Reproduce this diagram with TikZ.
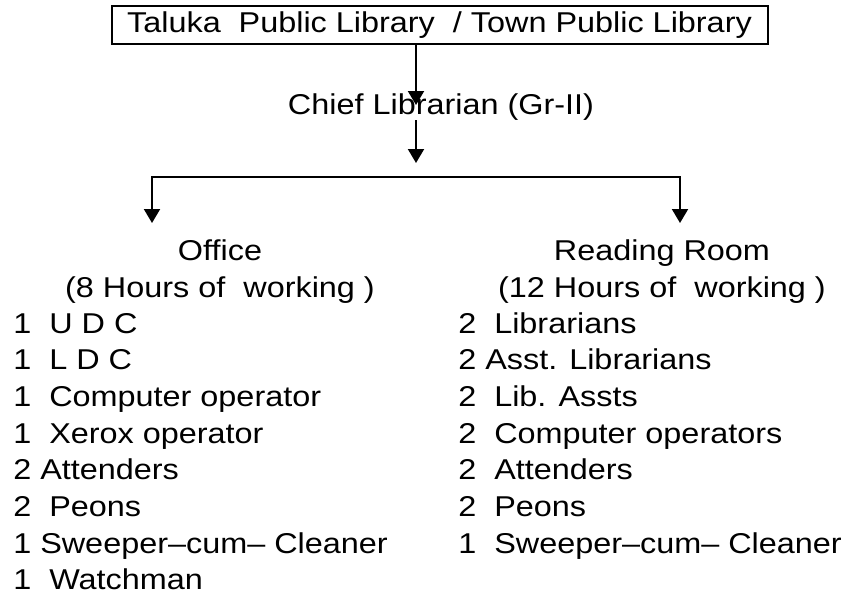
\documentclass[tikz,border=0pt]{standalone}
\usepackage{fontspec}
\setmainfont[FakeStretch=1.13]{Liberation Sans}
\usetikzlibrary{arrows.meta}

\begin{document}
\begin{tikzpicture}[x=0.75pt, y=0.75pt, font=\fontsize{21.5}{25}\selectfont]
	\tikzstyle{heading}=[draw=black, line width=1.5pt, minimum width=492pt, minimum height=28.5pt, inner sep=0pt]
	\tikzstyle{title}=[anchor=base, inner sep=0pt]
	\tikzstyle{item}=[anchor=base west, inner sep=0pt]
	\tikzstyle{arr}=[-{Triangle[width=12pt,length=10.5pt]}, line width=1.5pt]
	\tikzstyle{arrs}=[{Triangle[width=12pt,length=10.5pt]}-{Triangle[width=12pt,length=10.5pt]}, line width=1.5pt]
	
	\useasboundingbox (0,0) rectangle (841,-596);
	
	% Library
	\node at (439.5, -25) [heading] (library) {Taluka\ \ Public Library\ \ / Town Public Library};
	
	% Chief librarian
	\node at (441, -114) [title] (chief) {Chief Librarian (Gr-II)};
	
	% Sections
	\node at (220, -260) [title] (office) {Office};
	\node at (220, -297) [title] (office_hrs) {(8 Hours of\ \ working )};
	\node at (662, -260) [title] (reading) {Reading Room};
	\node at (662, -297) [title] (reading_hrs) {(12 Hours of\ \ working )};
	
	% Office staff
	\foreach \t [count=\i] in {1\ \ U D C, 1\ \ L D C, 1\ \ Computer operator, 1\ \ Xerox operator, 2 Attenders, 2\ \ Peons, 1 Sweeper–cum– Cleaner, 1\ \ Watchman}
	\node at (13, -296.3-\i*36.7) [item] (office_\i) {\t};
	
	% Reading room staff
	\foreach \t [count=\i] in {2\ \ Librarians, 2 Asst. Librarians, 2\ \ Lib. Assts, 2\ \ Computer operators, 2\ \ Attenders, 2\ \ Peons, 1\ \ Sweeper–cum– Cleaner}
	\node at (458, -296.3-\i*36.7) [item] (reading_\i) {\t};
	
	\coordinate (tip_1) at (416, -105);
	\coordinate (tip_2) at (416, -163);
	\coordinate (bar) at (416, -177);
	\coordinate (tip_left) at (152, -223);
	\coordinate (tip_right) at (680, -223);
	
	\draw [arr] (library.south -| tip_1) to (tip_1);
	\draw [arr] (chief.south -| tip_2) to (tip_2);
	\draw [arrs] (tip_left) -- (tip_left |- bar) -- (tip_right |- bar) -- (tip_right);

\end{tikzpicture}
\end{document}
